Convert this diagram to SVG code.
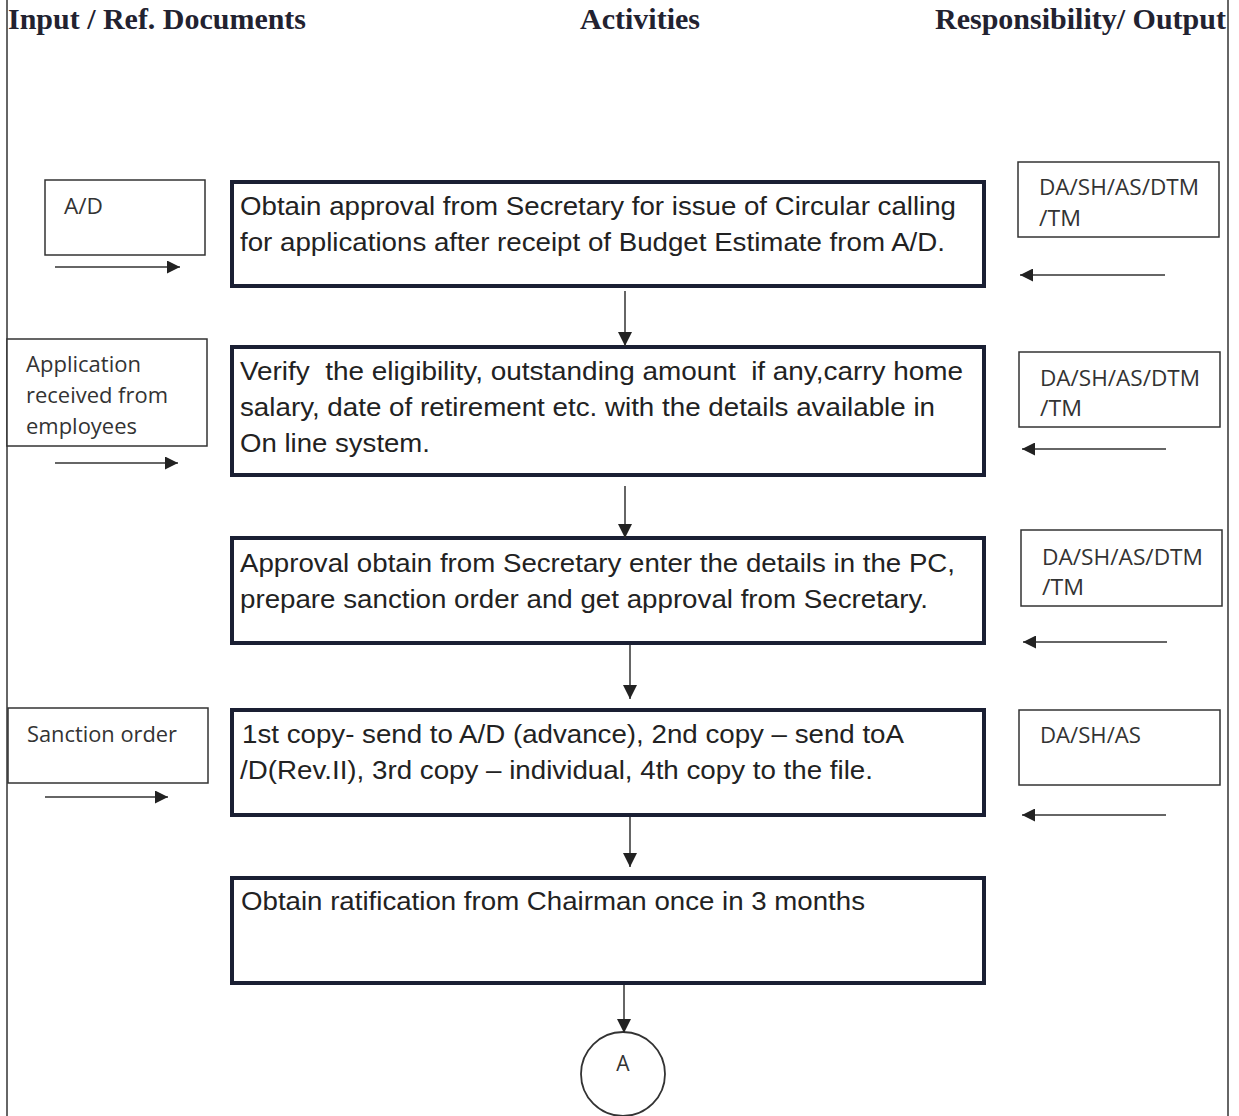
<svg xmlns="http://www.w3.org/2000/svg" width="1239" height="1116" viewBox="0 0 1239 1116">
<style>
.hdr{font-family:"Liberation Serif",serif;font-weight:bold;font-size:29px;fill:#222230}
.main{fill:#fff;stroke:#1a1f33;stroke-width:4}
.mt{font-family:"Liberation Sans",Arial,sans-serif;font-size:26px;fill:#222}
.side{fill:#fff;stroke:#333;stroke-width:1.5}
.st{font-family:"Open Sans",Lato,sans-serif;font-size:21px;fill:#333}
.ln{stroke:#333;stroke-width:1.5;fill:none}
</style>
<defs>
<marker id="ah" viewBox="0 0 10 10" refX="10" refY="5" markerWidth="14" markerHeight="13" markerUnits="userSpaceOnUse" orient="auto">
<path d="M0,0 L10,5 L0,10 z" fill="#222"/>
</marker>
<marker id="av" viewBox="0 0 10 10" refX="10" refY="5" markerWidth="15" markerHeight="14" markerUnits="userSpaceOnUse" orient="auto">
<path d="M0,0 L10,5 L0,10 z" fill="#222"/>
</marker>
</defs>
<rect width="1239" height="1116" fill="#fff"/>
<g id="frame">
<line x1="7" y1="0" x2="7" y2="1116" class="ln"/>
<line x1="1228" y1="0" x2="1228" y2="1116" class="ln"/>
</g>
<g id="headers">
<text class="hdr" x="8" y="29" textLength="298" lengthAdjust="spacingAndGlyphs">Input / Ref. Documents</text>
<text class="hdr" x="580" y="29" textLength="120" lengthAdjust="spacingAndGlyphs">Activities</text>
<text class="hdr" x="935" y="29" textLength="291" lengthAdjust="spacingAndGlyphs">Responsibility/ Output</text>
</g>
<g id="act1">
<rect class="main" x="232" y="182" width="752" height="104"/>
<text class="mt" x="240" y="215" textLength="716" lengthAdjust="spacingAndGlyphs">Obtain approval from Secretary for issue of Circular calling</text>
<text class="mt" x="240" y="251" textLength="705" lengthAdjust="spacingAndGlyphs">for applications after receipt of Budget Estimate from A/D.</text>
</g>
<g id="act2">
<rect class="main" x="232" y="347" width="752" height="128"/>
<text class="mt" x="240" y="380" textLength="723" lengthAdjust="spacingAndGlyphs" xml:space="preserve">Verify  the eligibility, outstanding amount  if any,carry home</text>
<text class="mt" x="240" y="416" textLength="695" lengthAdjust="spacingAndGlyphs">salary, date of retirement etc. with the details available in</text>
<text class="mt" x="240" y="452" textLength="190" lengthAdjust="spacingAndGlyphs">On line system.</text>
</g>
<g id="act3">
<rect class="main" x="232" y="538" width="752" height="105"/>
<text class="mt" x="240" y="572" textLength="715" lengthAdjust="spacingAndGlyphs">Approval obtain from Secretary enter the details in the PC,</text>
<text class="mt" x="240" y="608" textLength="688" lengthAdjust="spacingAndGlyphs">prepare sanction order and get approval from Secretary.</text>
</g>
<g id="act4">
<rect class="main" x="232" y="710" width="752" height="105"/>
<text class="mt" x="242" y="743" textLength="662" lengthAdjust="spacingAndGlyphs">1st copy- send to A/D (advance), 2nd copy – send toA</text>
<text class="mt" x="240" y="779" textLength="633" lengthAdjust="spacingAndGlyphs">/D(Rev.II), 3rd copy – individual, 4th copy to the file.</text>
</g>
<g id="act5">
<rect class="main" x="232" y="878" width="752" height="105"/>
<text class="mt" x="241" y="910" textLength="624" lengthAdjust="spacingAndGlyphs">Obtain ratification from Chairman once in 3 months</text>
</g>
<g id="connA">
<circle cx="623" cy="1074" r="42" fill="#fff" stroke="#333" stroke-width="1.8"/>
<text class="st" x="623" y="1071" text-anchor="middle">A</text>
</g>
<g id="in1">
<rect class="side" x="45" y="180" width="160" height="75"/>
<text class="st" x="64" y="214" textLength="39" lengthAdjust="spacingAndGlyphs">A/D</text>
</g>
<g id="in2">
<rect class="side" x="7" y="339" width="200" height="107"/>
<text class="st" x="26" y="372" textLength="115" lengthAdjust="spacingAndGlyphs">Application</text>
<text class="st" x="26" y="403" textLength="142" lengthAdjust="spacingAndGlyphs">received from</text>
<text class="st" x="26" y="434" textLength="111" lengthAdjust="spacingAndGlyphs">employees</text>
</g>
<g id="in4">
<rect class="side" x="8" y="708" width="200" height="75"/>
<text class="st" x="27" y="742" textLength="150" lengthAdjust="spacingAndGlyphs">Sanction order</text>
</g>
<g id="out1">
<rect class="side" x="1018" y="162" width="201" height="75"/>
<text class="st" x="1039" y="195" textLength="160" lengthAdjust="spacingAndGlyphs">DA/SH/AS/DTM</text>
<text class="st" x="1039" y="226" textLength="42" lengthAdjust="spacingAndGlyphs">/TM</text>
</g>
<g id="out2">
<rect class="side" x="1019" y="352" width="201" height="75"/>
<text class="st" x="1040" y="386" textLength="160" lengthAdjust="spacingAndGlyphs">DA/SH/AS/DTM</text>
<text class="st" x="1040" y="416" textLength="42" lengthAdjust="spacingAndGlyphs">/TM</text>
</g>
<g id="out3">
<rect class="side" x="1021" y="530" width="201" height="76"/>
<text class="st" x="1042" y="565" textLength="161" lengthAdjust="spacingAndGlyphs">DA/SH/AS/DTM</text>
<text class="st" x="1042" y="595" textLength="42" lengthAdjust="spacingAndGlyphs">/TM</text>
</g>
<g id="out4">
<rect class="side" x="1019" y="710" width="201" height="75"/>
<text class="st" x="1040" y="743" textLength="101" lengthAdjust="spacingAndGlyphs">DA/SH/AS</text>
</g>
<g id="connectors">
<line class="ln" x1="625" y1="291" x2="625" y2="346" marker-end="url(#av)"/>
<line class="ln" x1="625" y1="486" x2="625" y2="538" marker-end="url(#av)"/>
<line class="ln" x1="630" y1="645" x2="630" y2="699" marker-end="url(#av)"/>
<line class="ln" x1="630" y1="817" x2="630" y2="867" marker-end="url(#av)"/>
<line class="ln" x1="624" y1="985" x2="624" y2="1033" marker-end="url(#av)"/>
<line class="ln" x1="55" y1="267" x2="180" y2="267" marker-end="url(#ah)"/>
<line class="ln" x1="55" y1="463" x2="178" y2="463" marker-end="url(#ah)"/>
<line class="ln" x1="45" y1="797" x2="168" y2="797" marker-end="url(#ah)"/>
<line class="ln" x1="1165" y1="275" x2="1020" y2="275" marker-end="url(#ah)"/>
<line class="ln" x1="1166" y1="449" x2="1022" y2="449" marker-end="url(#ah)"/>
<line class="ln" x1="1167" y1="642" x2="1023" y2="642" marker-end="url(#ah)"/>
<line class="ln" x1="1166" y1="815" x2="1022" y2="815" marker-end="url(#ah)"/>
</g>
</svg>
